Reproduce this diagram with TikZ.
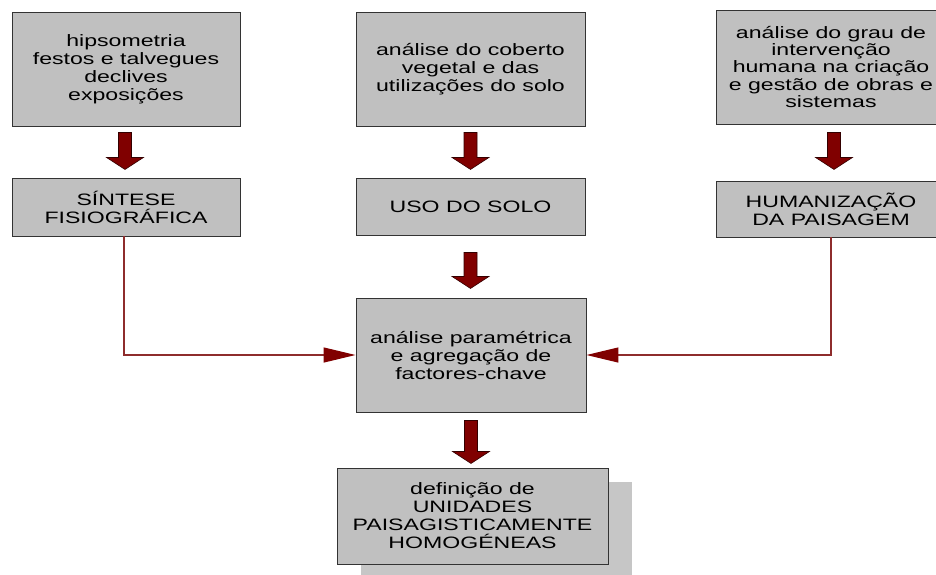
\documentclass[tikz,border=0pt]{standalone}
\usepackage{fontspec}
\setmainfont[FakeStretch=1.4]{Liberation Sans}
\usetikzlibrary{arrows.meta,calc,shadows}
\definecolor{boxgray}{HTML}{C0C0C0}
\definecolor{shadowgray}{HTML}{C6C6C6}
\definecolor{darkred}{HTML}{800000}
\definecolor{linered}{HTML}{8E2C2C}
\begin{document}
\begin{tikzpicture}[x=1pt,y=-1pt,
  box/.style={draw=black!80, line width=0.9pt, fill=boxgray, inner sep=0pt,
    align=center, font=\fontsize{16.5}{18}\selectfont, text=black},
  conn/.style={draw=linered, line width=1.2pt,
    -{Triangle[length=32pt,width=15pt,color=darkred]}},
  pics/blockarr/.style={code={
    \filldraw[fill=darkred, draw=black!60!darkred, line width=0.6pt]
      (-6.5,0) -- (6.5,0) -- (6.5,#1-12) -- (18.5,#1-12) -- (0,#1)
      -- (-18.5,#1-12) -- (-6.5,#1-12) -- cycle;}}
]
\useasboundingbox (0,0) rectangle (936,574);
\clip (0,0) rectangle (936,574);

% top row
\node[box, minimum width=228pt, minimum height=114pt] (b1) at (126,69)
  {hipsometria\\festos e talvegues\\declives\\exposições};
\node[box, minimum width=229pt, minimum height=114pt] (b2) at (470.5,69)
  {análise do coberto\\vegetal e das\\utilizações do solo};
\node[box, minimum width=230pt, minimum height=114pt,
  font=\fontsize{16.5}{17.5}\selectfont] (b3) at (831,67)
  {análise do grau de\\intervenção\\humana na criação\\e gestão de obras e\\sistemas};

% second row
\node[box, minimum width=228pt, minimum height=58pt] (s1) at (126,207)
  {SÍNTESE\\FISIOGRÁFICA};
\node[box, minimum width=229pt, minimum height=57pt] (s2) at (470.5,206.5)
  {USO DO SOLO};
\node[box, minimum width=230pt, minimum height=56pt] (s3) at (831,209)
  {HUMANIZAÇÃO\\DA PAISAGEM};

% central
\node[box, minimum width=230pt, minimum height=114pt] (c) at (471,355)
  {análise paramétrica\\e agregação de\\factores-chave};

% bottom
\node[box, minimum width=271pt, minimum height=96pt,
  drop shadow={opacity=1, fill=shadowgray, draw=none, shadow xshift=24pt, shadow yshift=-14pt}]
  (d) at (472.5,516)
  {definição de\\UNIDADES\\PAISAGISTICAMENTE\\HOMOGÉNEAS};

% block arrows
\pic at ($(b1.south)+(-1,6)$) {blockarr=37};
\pic at ($(b2.south)+(0,6)$) {blockarr=37};
\pic at ($(b3.south)+(3,8)$) {blockarr=37};
\pic at ($(s2.south)+(0,17)$) {blockarr=36};
\pic at ($(c.south)+(0,8)$) {blockarr=43};

% connectors
\draw[conn] ($(s1.south)+(-2,0)$) |- (c.west);
\draw[conn] (s3.south) |- (c.east);
\end{tikzpicture}
\end{document}
